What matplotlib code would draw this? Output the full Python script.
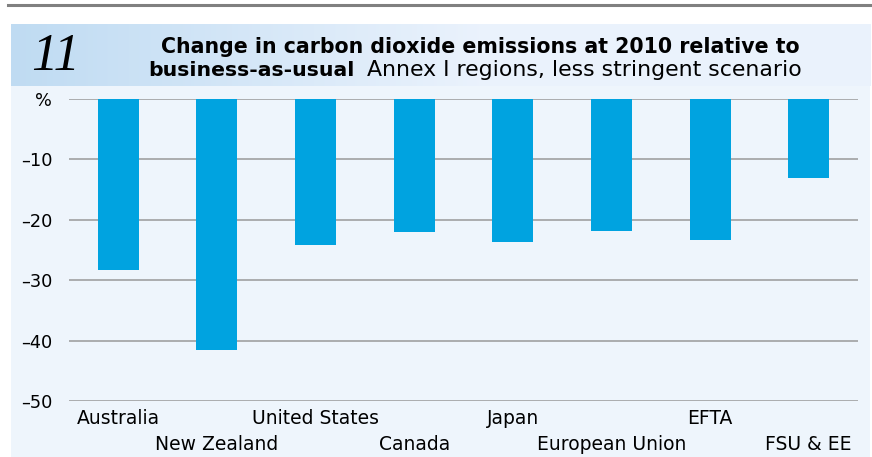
import matplotlib.pyplot as plt
import matplotlib.transforms as mtransforms
import numpy as np

regions = ['Australia', 'New Zealand', 'United States', 'Canada',
           'Japan', 'European Union', 'EFTA', 'FSU & EE']
change = [-28.3, -41.6, -24.2, -22.0, -23.7, -21.9, -23.3, -13.1]
yticks = [0, -10, -20, -30, -40, -50]
ytick_labels = ['%', '\u201310', '\u201320', '\u201330', '\u201340', '\u201350']

W, H = 872, 457
fig = plt.figure(figsize=(W / 100, H / 100), dpi=100)
fig.patch.set_facecolor('white')

def fx(px):
    return px / W

def fy(py):
    return 1 - py / H

# panel background
bg = fig.add_axes([fx(11), fy(457), fx(870) - fx(11), fy(24) - fy(457)])
bg.set_facecolor('#eef5fc')
bg.set_xticks([])
bg.set_yticks([])
for s in bg.spines.values():
    s.set_visible(False)

# header band with a left-to-right gradient
hd = fig.add_axes([fx(11), fy(86), fx(870) - fx(11), fy(24) - fy(86)])
grad = np.linspace(0, 1, 400)
c0 = np.array([0.75, 0.86, 0.95])
c1 = np.array([0.92, 0.95, 0.99])
t = np.clip(grad / 0.55, 0, 1)[None, :, None]
img = c0 * (1 - t) + c1 * t
hd.imshow(img, aspect='auto', extent=[0, 1, 0, 1])
hd.set_axis_off()

# rule along the top
fig.add_artist(plt.Line2D([fx(8), fx(872)], [fy(5), fy(5)], color='#808080', lw=2.2))

fig.text(fx(31), fy(57), '11', family='Liberation Serif', style='italic',
         fontsize=38, va='center', ha='left', color='black')
fig.text(fx(480), fy(47), 'Change in carbon dioxide emissions at 2010 relative to',
         fontsize=14.8, fontweight='bold', ha='center', va='center', family='DejaVu Sans')
fig.text(fx(148), fy(70), 'business-as-usual', fontsize=14.7, fontweight='bold',
         ha='left', va='center', family='DejaVu Sans')
fig.text(fx(367), fy(70), 'Annex I regions, less stringent scenario', fontsize=15.8,
         ha='left', va='center', family='DejaVu Sans')

ax = fig.add_axes([fx(69), fy(401), fx(858) - fx(69), fy(99) - fy(401)])
ax.set_facecolor('none')
x = np.arange(len(regions))
ax.bar(x, change, width=0.415, color='#00a3e0', zorder=3)
ax.set_xlim(-0.5, 7.5)
ax.set_ylim(-50, 0)
ax.set_yticks(yticks)
ax.set_yticklabels(ytick_labels, fontsize=12.8)
ax.tick_params(axis='y', length=0, pad=12)
ax.set_xticks([])
ax.grid(axis='y', color='#999999', lw=1.1, zorder=1)
for s in ax.spines.values():
    s.set_visible(False)

# region names, staggered on two rows
lab_tr = mtransforms.blended_transform_factory(ax.transData, fig.transFigure)
for i, name in enumerate(regions):
    ypx = 418 if i % 2 == 0 else 444
    ax.text(i, fy(ypx), name, transform=lab_tr, fontsize=13.5,
            ha='center', va='center')

fig.savefig('out.png', dpi=100)
